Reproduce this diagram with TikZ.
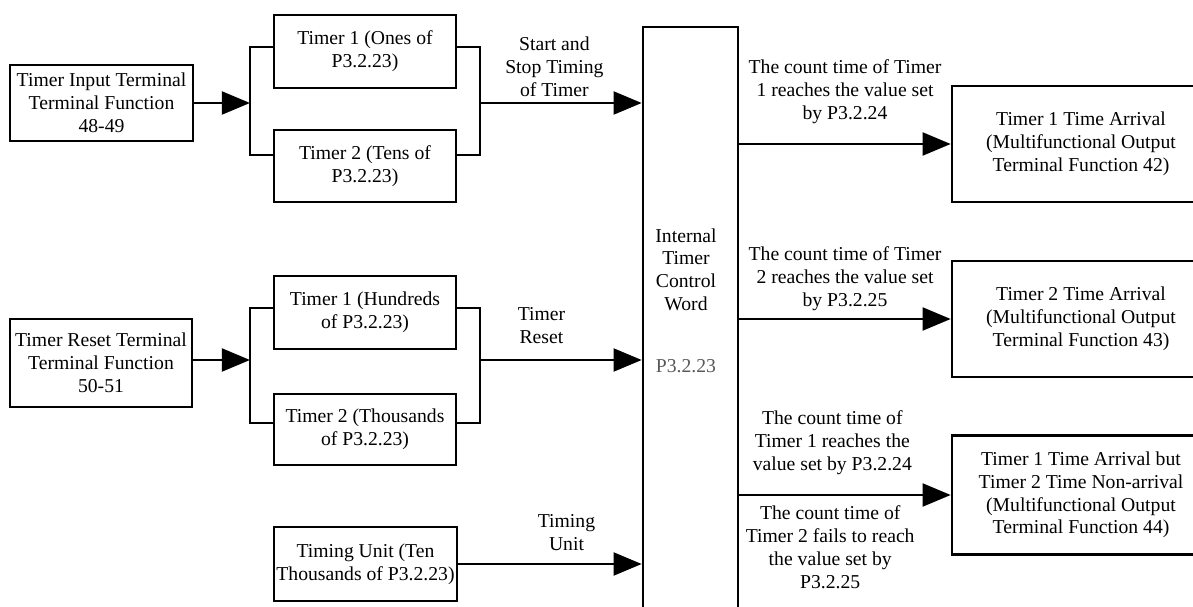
\documentclass[tikz,border=0pt]{standalone}
\usepackage{fontspec}
\setmainfont{Liberation Serif}
\usetikzlibrary{arrows.meta}
\newcommand\boxfont{\fontsize{11.2}{13}\selectfont}
\tikzset{
  blk/.style={draw, line width=1.5pt, align=center, inner sep=0pt, minimum width=3.64cm, font=\boxfont},
  outblk/.style={blk, minimum width=5.16cm},
  wire/.style={line width=1.5pt},
  arr/.style={line width=1.5pt, -{Triangle[length=16pt,width=13pt]}},
  lbl/.style={align=center, inner sep=1pt, font=\boxfont},
}
\begin{document}
\begin{tikzpicture}[x=0.02cm, y=-0.02cm]
        \useasboundingbox (0,0) rectangle (1193,607);
        \clip (0,0) rectangle (1193,607);

        % input terminals
        \node[blk, minimum width=3.66cm, minimum height=1.52cm] (tin) at (101.5,103) {Timer Input Terminal\\Terminal Function\\48-49};
        \node[blk, minimum height=1.76cm] (trst) at (101,363) {Timer Reset Terminal\\Terminal Function\\50-51};

        % timer selections
        \node[blk, minimum height=1.46cm] (ones) at (365,51.5) {Timer 1 (Ones of\\P3.2.23)};
        \node[blk, minimum height=1.44cm] (tens) at (365,166) {Timer 2 (Tens of\\P3.2.23)};
        \node[blk, minimum height=1.46cm] (hund) at (365,312.5) {Timer 1 (Hundreds\\of P3.2.23)};
        \node[blk, minimum height=1.42cm] (thou) at (365,429.5) {Timer 2 (Thousands\\of P3.2.23)};
        \node[blk, minimum width=3.66cm, minimum height=1.48cm] (unit) at (365.5,564) {Timing Unit (Ten\\Thousands of P3.2.23)};

        % control word
        \node[blk, minimum width=1.9cm, minimum height=12.26cm] (ctl) at (690.5,333.5) {};
        \node[lbl, anchor=north, inner sep=0pt] (ctltxt) at (686,228) {Internal\\Timer\\Control\\Word\\[22pt]\textcolor{black!65}{P3.2.23}};

        % outputs
        \node[outblk, minimum height=2.32cm] (out1) at (1081,144) {Timer 1 Time Arrival\\(Multifunctional Output\\Terminal Function 42)};
        \node[outblk, minimum height=2.32cm] (out2) at (1081,319) {Timer 2 Time Arrival\\(Multifunctional Output\\Terminal Function 43)};
        \node[outblk, minimum height=2.38cm] (out3) at (1081,495) {Timer 1 Time Arrival but\\Timer 2 Time Non-arrival\\(Multifunctional Output\\Terminal Function 44)};

        % start and stop
        \coordinate (ja) at (250,103);
        \coordinate (jb) at (480,103);
        \draw[arr] (tin.east |- ja) -- (ja);
        \draw[wire] ([yshift=0.09cm]ones.west) -| (ja);
        \draw[wire] ([yshift=0.22cm]tens.west) -| (ja);
        \draw[wire] ([yshift=0.09cm]ones.east) -| (jb);
        \draw[wire] ([yshift=0.22cm]tens.east) -| (jb);
        \draw[arr] (jb) -- (jb -| ctl.west) node[lbl, above=1.8pt, pos=0.46] {Start and\\Stop Timing\\of Timer};

        % reset
        \coordinate (jc) at (250,360);
        \coordinate (jd) at (480,360);
        \draw[arr] (trst.east |- jc) -- (jc);
        \draw[wire] ([yshift=0.09cm]hund.west) -| (jc);
        \draw[wire] ([yshift=0.13cm]thou.west) -| (jc);
        \draw[wire] ([yshift=0.09cm]hund.east) -| (jd);
        \draw[wire] ([yshift=0.13cm]thou.east) -| (jd);
        \draw[arr] (jd) -- (jd -| ctl.west) node[lbl, above=7.5pt, pos=0.38] {Timer\\Reset};

        % timing unit
        \draw[arr] (unit.east) -- (unit.east -| ctl.west) node[lbl, above=5.8pt, pos=0.59] {Timing\\Unit};

        % to the outputs
        \draw[arr] (ctl.east |- out1) -- (out1.west) node[lbl, above=9.7pt, midway] {The count time of Timer\\1 reaches the value set\\by P3.2.24};
        \draw[arr] (ctl.east |- out2) -- (out2.west) node[lbl, above=2.9pt, midway] {The count time of Timer\\2 reaches the value set\\by P3.2.25};
        \draw[arr] (ctl.east |- out3) -- (out3.west)
            node[lbl, above=9.7pt, pos=0.44] {The count time of\\Timer 1 reaches the\\value set by P3.2.24}
            node[lbl, below=4.4pt, pos=0.43] {The count time of\\Timer 2 fails to reach\\the value set by\\P3.2.25};
    \end{tikzpicture}
\end{document}
